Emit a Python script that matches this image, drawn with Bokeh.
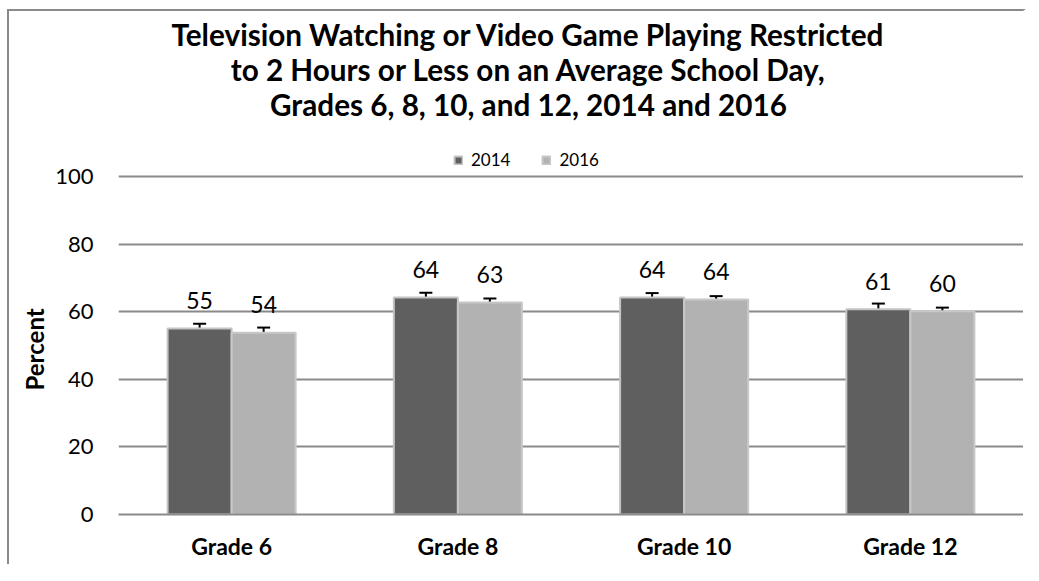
from bokeh.plotting import figure
from bokeh.models import (ColumnDataSource, FactorRange, Range1d, FixedTicker, Whisker,
                          TeeHead, Legend, LegendItem, Title, GlobalInlineStyleSheet)
from bokeh.transform import dodge
from bokeh.core.properties import value
from bokeh.embed import file_html
from bokeh.resources import INLINE

grades = ["Grade 6", "Grade 8", "Grade 10", "Grade 12"]
pct_2014 = [55.0, 64.2, 64.2, 60.7]
pct_2016 = [53.8, 62.7, 63.6, 60.1]
err_2014 = [1.4, 1.4, 1.3, 1.7]
err_2016 = [1.5, 1.2, 1.0, 1.1]
y_ticks = [0, 20, 40, 60, 80, 100]
series_names = ["2014", "2016"]
y_title = "Percent"
title_lines = ["Television Watching or Video Game Playing Restricted",
               "to 2 Hours or Less on an Average School Day,",
               "Grades 6, 8, 10, and 12, 2014 and 2016"]

FONT = "Lato"
DARK = "#5f5f5f"
LIGHT = "#b2b2b2"
GRID = "#8a8a8a"

def make_src(vals, errs):
    return ColumnDataSource(dict(
        grade=grades,
        val=vals,
        upper=[v + e for v, e in zip(vals, errs)],
        lower=[v - e for v, e in zip(vals, errs)],
        lab=[str(int(round(v))) for v in vals],
    ))

s14 = make_src(pct_2014, err_2014)
s16 = make_src(pct_2016, err_2016)

# frame spans from the top of the chart down to 0; the title lives inside it
p = figure(x_range=FactorRange(*grades, range_padding=0), y_range=Range1d(0, 148.8),
           frame_width=905, frame_height=503,
           min_border_left=109, min_border_right=0, min_border_top=0, min_border_bottom=50,
           output_backend="svg", toolbar_location=None)
p.styles = {"margin-left": "7px", "margin-top": "9px",
            "border-left": "2px solid " + GRID, "border-top": "2px solid " + GRID,
            "border-right": "3px solid white"}
p.stylesheets = [GlobalInlineStyleSheet(
    css="html, body { overflow: hidden !important; margin: 0 !important; }")]
p.outline_line_color = None
p.background_fill_color = "white"
p.border_fill_color = "white"

# title (centred on the whole chart)
tsrc = ColumnDataSource(dict(x=[1.812] * 3, y=[142.0, 131.6, 121.3], t=title_lines))
p.text(x="x", y="y", text="t", source=tsrc, text_align="center", text_baseline="alphabetic",
       text_font=value(FONT), text_font_style="bold", text_font_size="29.7px", text_color="black")

off = 0.1415
bw = 0.283
r14 = p.vbar(x=dodge("grade", -off, range=p.x_range), top="val", width=bw, source=s14,
             fill_color=DARK, line_color="#c4c4c4", line_width=2)
r16 = p.vbar(x=dodge("grade", off, range=p.x_range), top="val", width=bw, source=s16,
             fill_color=LIGHT, line_color="#c8c8c8", line_width=2)

for src, dx in ((s14, -off), (s16, off)):
    w = Whisker(base=dodge("grade", dx, range=p.x_range), upper="upper", lower="lower", source=src,
                line_color="black", line_width=2,
                upper_head=TeeHead(size=13, line_width=2, line_color="black"),
                lower_head=TeeHead(size=13, line_width=2, line_color="black"))
    p.add_layout(w)
    p.text(x=dodge("grade", dx, range=p.x_range), y="val", text="lab", source=src,
           text_align="center", text_baseline="alphabetic", y_offset=-28,
           text_font=value(FONT), text_font_size="23px", text_color="black")

p.xgrid.grid_line_color = None
p.ygrid.ticker = FixedTicker(ticks=y_ticks)
p.ygrid.grid_line_color = GRID
p.ygrid.grid_line_width = 2

p.yaxis.ticker = FixedTicker(ticks=y_ticks)
p.yaxis.bounds = (0, 100)
p.yaxis.axis_line_color = None
p.yaxis.major_tick_line_color = None
p.yaxis.minor_tick_line_color = None
p.yaxis.major_tick_out = 0
p.yaxis.major_label_standoff = 25
p.yaxis.major_label_text_font = FONT
p.yaxis.major_label_text_font_size = "22px"
p.yaxis.major_label_text_color = "black"

# "Percent" centred on the 0-100 part of the axis
ytitle = Title(text=y_title, align="left", offset=124, vertical_align="middle", standoff=6,
               text_font=FONT, text_font_style="bold", text_font_size="24px", text_color="black")
p.add_layout(ytitle, "left")

p.xaxis.axis_line_color = GRID
p.xaxis.axis_line_width = 2
p.xaxis.major_tick_line_color = None
p.xaxis.major_tick_out = 0
p.xaxis.major_label_standoff = 17
p.xaxis.major_label_text_font = FONT
p.xaxis.major_label_text_font_style = "bold"
p.xaxis.major_label_text_font_size = "23px"
p.xaxis.major_label_text_color = "black"

legend = Legend(items=[LegendItem(label=series_names[0], renderers=[r14]),
                       LegendItem(label=series_names[1], renderers=[r16])],
                orientation="horizontal", location=(335, 344),
                glyph_width=10, glyph_height=10, label_standoff=8, spacing=31,
                label_text_font=FONT, label_text_font_size="17px", label_text_color="black",
                border_line_color=None, background_fill_alpha=0, padding=0, margin=0)
p.add_layout(legend, "center")

open("out.html", "w").write(file_html(p, INLINE))
